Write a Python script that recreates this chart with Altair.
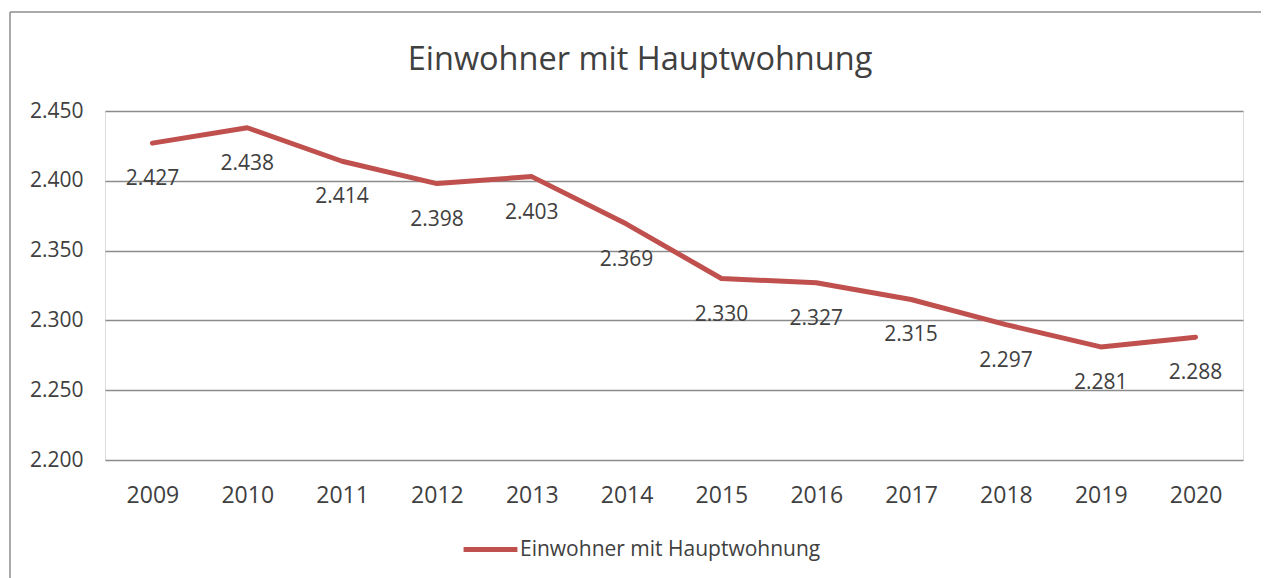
import altair as alt
import pandas as pd

years = ["2009", "2010", "2011", "2012", "2013", "2014", "2015", "2016", "2017", "2018", "2019", "2020"]
values = [2427, 2438, 2414, 2398, 2403, 2369, 2330, 2327, 2315, 2297, 2281, 2288]
series_name = "Einwohner mit Hauptwohnung"
y_ticks = [2200, 2250, 2300, 2350, 2400, 2450]

df = pd.DataFrame({"Jahr": years, "Wert": values, "Reihe": [series_name] * len(years)})

FONT = "Open Sans"
TXT = "#404040"
RED = "#C0504D"
GRID = "#8c8c8c"

W, H = 1138, 349

base = alt.Chart(df)

line = base.mark_line(strokeWidth=5, strokeCap="round", strokeJoin="round").encode(
    x=alt.X("Jahr:O", title=None, sort=years,
            axis=alt.Axis(labelAngle=0, labelFontSize=23, labelColor=TXT, labelFont=FONT,
                          ticks=False, domain=False, labelPadding=24)),
    y=alt.Y("Wert:Q", title=None,
            scale=alt.Scale(domain=[2200, 2450], nice=False, zero=False),
            axis=alt.Axis(values=y_ticks, labelExpr="replace(format(datum.value, ','), ',', '.')",
                          labelFontSize=21, labelColor=TXT, labelFont=FONT, ticks=False,
                          domain=False, labelPadding=22, gridColor=GRID, gridWidth=1.5)),
    color=alt.Color("Reihe:N", scale=alt.Scale(domain=[series_name], range=[RED]),
                    legend=alt.Legend(title=None, orient="none", legendX=356, legendY=409,
                                      symbolType="stroke", symbolSize=2900, symbolStrokeWidth=5,
                                      labelFontSize=21, labelColor=TXT, labelFont=FONT,
                                      labelLimit=0, symbolOffset=0, labelOffset=0)),
)

labels = base.transform_calculate(
    lbl="replace(format(datum.Wert, ','), ',', '.')"
).mark_text(fontSize=21, font=FONT, color=TXT, dy=36, baseline="middle").encode(
    x=alt.X("Jahr:O", sort=years),
    y=alt.Y("Wert:Q"),
    text="lbl:N",
)

border_left = alt.Chart(pd.DataFrame({"a": [0]})).mark_rule(color=GRID, strokeWidth=1.5, clip=False).encode(
    x=alt.value(-95), y=alt.value(-99), y2=alt.value(520)
)
border_top = alt.Chart(pd.DataFrame({"a": [0]})).mark_rule(color=GRID, strokeWidth=1.5, clip=False).encode(
    x=alt.value(-95), x2=alt.value(1200), y=alt.value(-99)
)

chart = alt.layer(line, labels, border_left, border_top).properties(
    width=W, height=H,
    title=alt.TitleParams(series_name, fontSize=32.5, font=FONT, color=TXT, fontWeight="normal",
                          anchor="middle", frame="group", offset=-65, dx=-34),
    autosize=alt.AutoSizeParams(type="none"),
    padding={"left": 97, "top": 103, "right": 18, "bottom": 120},
).configure_view(stroke=None).configure(background="white")

chart.save("out.html", embed_options={"renderer": "svg", "actions": False})
